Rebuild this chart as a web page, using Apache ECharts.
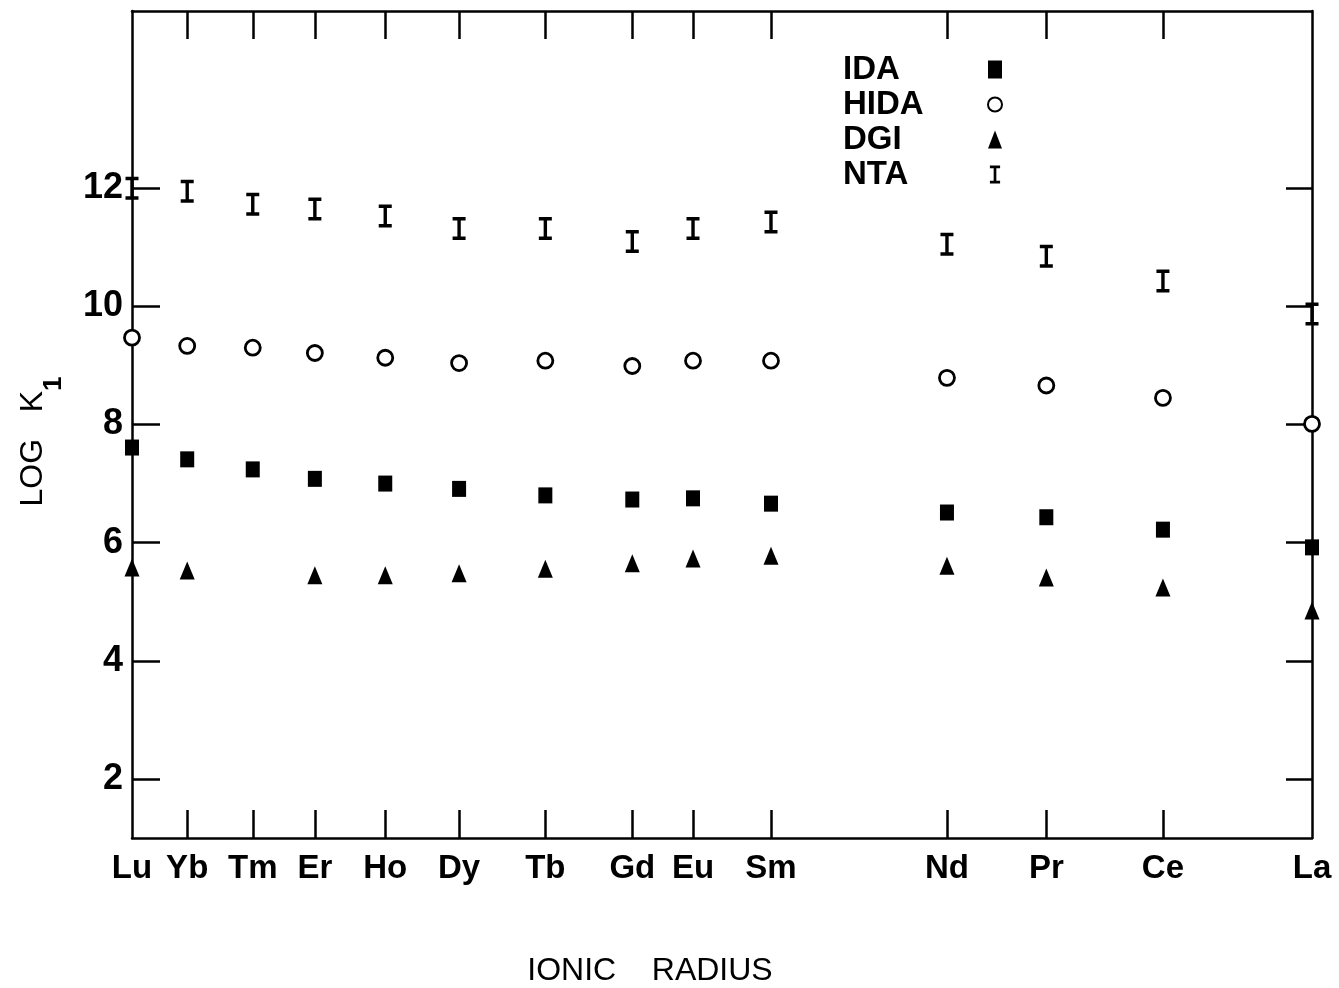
<!DOCTYPE html>
<html>
<head>
<meta charset="utf-8">
<script src="https://cdn.jsdelivr.net/npm/echarts@6/dist/echarts.min.js"></script>
<style>
  html, body { margin: 0; padding: 0; background: #fff; }
  #chart { width: 1339px; height: 988px; }
</style>
</head>
<body>
<div id="chart"></div>
<script>
  const elements = ['Lu', 'Yb', 'Tm', 'Er', 'Ho', 'Dy', 'Tb', 'Gd', 'Eu', 'Sm', 'Nd', 'Pr', 'Ce', 'La'];
  const radius = [0.861, 0.869, 0.8785, 0.8875, 0.8977, 0.9084, 0.9209, 0.9335, 0.9423, 0.9536, 0.9791, 0.9935, 1.0104, 1.032];

  // log K1 values
  const ida  = [7.61, 7.41, 7.24, 7.08, 7.00, 6.91, 6.80, 6.73, 6.75, 6.66, 6.51, 6.43, 6.22, 5.92];
  const hida = [9.47, 9.33, 9.30, 9.21, 9.13, 9.04, 9.08, 8.99, 9.08, 9.08, 8.79, 8.66, 8.45, 8.01];
  const dgi  = [5.58, 5.53, null, 5.45, 5.45, 5.48, 5.56, 5.65, 5.73, 5.78, 5.61, 5.41, 5.24, 4.85];
  const nta  = [12.0, 11.95, 11.73, 11.65, 11.53, 11.32, 11.32, 11.10, 11.32, 11.43, 11.05, 10.85, 10.43, 9.87];

  const yTicks = [2, 4, 6, 8, 10, 12];

  const FONT = '"Liberation Sans", Arial, sans-serif';
  const BLACK = '#000';
  const I_BEAM = 'path://M0,0H13V3.5H8.2V19.5H13V23H0V19.5H4.8V3.5H0Z';

  const pts = vals => radius.map((r, i) => [r, vals[i]]).filter(p => p[1] != null);
  const nameOf = v => {
    let best = 0;
    radius.forEach((r, i) => { if (Math.abs(r - v) < Math.abs(radius[best] - v)) best = i; });
    return elements[best];
  };
  const innerTicks = radius.slice(1, -1);

  const axisLine = { show: true, lineStyle: { color: BLACK, width: 2.5 } };

  const chart = echarts.init(document.getElementById('chart'));

  const option = {
    backgroundColor: '#fff',
    animation: false,
    grid: { left: 132, right: 27, top: 11, bottom: 150 },
    title: {
      text: 'IONIC    RADIUS',
      left: 645,
      top: 950,
      textAlign: 'center',
      textStyle: { fontFamily: FONT, fontSize: 32, fontWeight: 'normal', color: BLACK }
    },
    legend: {
      left: 838,
      top: 48,
      orient: 'vertical',
      align: 'right',
      itemGap: 2,
      itemWidth: 14,
      itemHeight: 18,
      formatter: name => '{t|' + name + '}',
      textStyle: {
        color: BLACK,
        rich: {
          t: { fontFamily: FONT, fontSize: 33, fontWeight: 'bold', color: BLACK, width: 140, align: 'left', lineHeight: 31 }
        }
      },
      data: ['IDA', 'HIDA', 'DGI', 'NTA']
    },
    xAxis: [
      {
        type: 'value',
        min: radius[0],
        max: radius[radius.length - 1],
        position: 'bottom',
        splitLine: { show: false },
        axisLine: axisLine,
        axisTick: { show: true, inside: true, length: 28, customValues: innerTicks, lineStyle: { color: BLACK, width: 2.5 } },
        axisLabel: {
          customValues: radius,
          formatter: v => nameOf(v),
          margin: 14,
          fontFamily: FONT, fontSize: 33, fontWeight: 'bold', color: BLACK
        }
      },
      {
        type: 'value',
        min: radius[0],
        max: radius[radius.length - 1],
        position: 'top',
        splitLine: { show: false },
        axisLine: axisLine,
        axisTick: { show: true, inside: true, length: 28, customValues: innerTicks, lineStyle: { color: BLACK, width: 2.5 } },
        axisLabel: { show: false }
      }
    ],
    yAxis: [
      {
        type: 'value',
        min: 1,
        max: 15,
        position: 'left',
        splitLine: { show: false },
        axisLine: axisLine,
        axisTick: { show: true, inside: true, length: 28, customValues: yTicks, lineStyle: { color: BLACK, width: 2.5 } },
        axisLabel: { customValues: yTicks, margin: 9, fontFamily: FONT, fontSize: 36, fontWeight: 'bold', color: BLACK },
        name: '{a|LOG   K}{s|1}',
        nameLocation: 'middle',
        nameRotate: 90,
        nameGap: 65,
        nameTextStyle: {
          padding: [0, 34, 0, 0],
          rich: {
            a: { fontFamily: FONT, fontSize: 32, color: BLACK, lineHeight: 50, verticalAlign: 'top' },
            s: { fontFamily: FONT, fontSize: 26, fontWeight: 'bold', color: BLACK, lineHeight: 50, verticalAlign: 'bottom' }
          }
        }
      },
      {
        type: 'value',
        min: 1,
        max: 15,
        position: 'right',
        splitLine: { show: false },
        axisLine: axisLine,
        axisTick: { show: true, inside: true, length: 26, customValues: yTicks, lineStyle: { color: BLACK, width: 2.5 } },
        axisLabel: { show: false }
      }
    ],
    series: [
      {
        name: 'IDA', type: 'scatter', data: pts(ida),
        symbol: 'rect', symbolSize: [14, 16],
        itemStyle: { color: BLACK, opacity: 1 }
      },
      {
        name: 'HIDA', type: 'scatter', data: pts(hida),
        symbol: 'circle', symbolSize: 15,
        itemStyle: { color: '#fff', borderColor: BLACK, borderWidth: 2.8, opacity: 1 }
      },
      {
        name: 'DGI', type: 'scatter', data: pts(dgi),
        symbol: 'triangle', symbolSize: [15, 18],
        itemStyle: { color: BLACK, opacity: 1 }
      },
      {
        name: 'NTA', type: 'scatter', data: pts(nta),
        symbol: I_BEAM, symbolSize: [13, 23],
        itemStyle: { color: BLACK, opacity: 1 }
      }
    ]
  };

  chart.setOption(option);
  window.addEventListener('resize', () => { chart.resize(); });
</script>
</body>
</html>
